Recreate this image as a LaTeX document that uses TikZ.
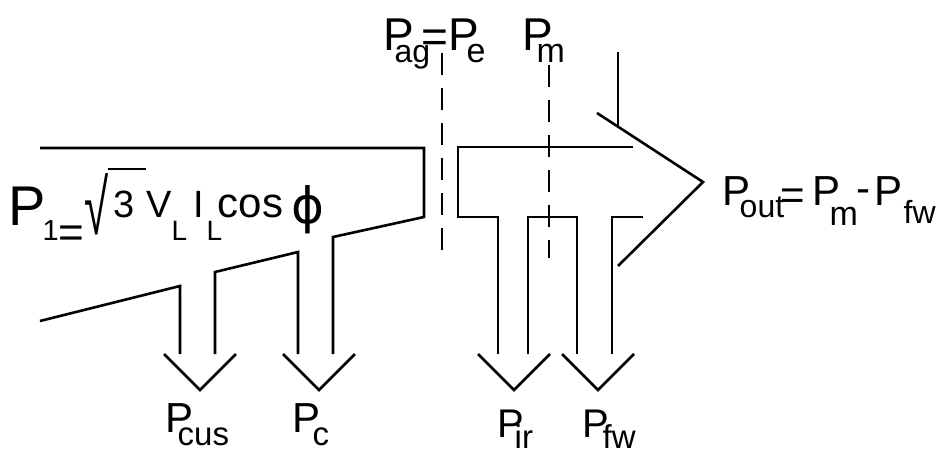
\documentclass[tikz,border=0pt]{standalone}
\usepackage{fontspec}
\setmainfont{Liberation Sans}
\newfontfamily\symfont{DejaVu Sans}
\newcommand{\at}[3]{\rlap{\hspace*{#1pt}\raisebox{#2pt}{#3}}}
\newcommand{\fs}[1]{\fontsize{#1}{#1}\selectfont}
\tikzset{
  flow/.style={line width=2.6pt},
  gap/.style={line width=2.4pt, dash pattern=on 22pt off 13pt},
  lbl/.style={inner sep=0pt, anchor=base west, font=\fs{42}}
}

\begin{document}
\begin{tikzpicture}[x=1pt,y=-1pt]
\useasboundingbox (0,0) rectangle (942,450);
\path (8,225) node[lbl](pin) {\at{0}{0}{\fs{56}P}\at{34}{-15}{\fs{29}1}\at{50}{-22}{\fs{44}=}%
		\at{76}{-9}{\scalebox{1}[1.75]{\fs{44}√}}\at{99}{55.5}{\rule{38pt}{1.6pt}}%
		\at{105}{8}{\fs{38}3}\at{138}{8}{\fs{38}V}\at{163}{-15}{\fs{28}L}%
		\at{185}{8}{\fs{38}I}\at{198}{-15}{\fs{28}L}\at{209}{8}{\fs{42}cos}%
		\at{283}{2}{\symfont\fs{50}ϕ}}
	(383,50) node[lbl,font=\fs{46}](pag) {\at{0}{0}{P}\at{11}{-12}{\fs{32}ag}\at{38}{-2}{=}%
		\at{65}{0}{P}\at{83}{-12}{\fs{34}e}}
	(522,50) node[lbl,font=\fs{46}](pm) {\at{0}{0}{P}\at{14}{-12}{\fs{34}m}}
	(722,205) node[lbl](pout) {\at{0}{0}{P}\at{17}{-12}{\fs{32}out}\at{58}{-4}{=}%
		\at{90}{0}{P}\at{107}{-20}{\fs{34}m}\at{134}{3}{-}\at{152}{0}{P}\at{181}{-18}{\fs{32}fw}}
	(165,432) node[lbl](pcus) {\at{0}{0}{P}\at{12}{-13}{\fs{33}cus}}
	(292,432) node[lbl](pc) {\at{0}{0}{P}\at{20}{-13}{\fs{33}c}}
	(497,437) node[lbl,font=\fs{40}](pir) {\at{0}{0}{P}\at{17}{-11}{\fs{33}ir}}
	(582,437) node[lbl,font=\fs{40}](pfw) {\at{0}{0}{P}\at{20}{-11}{\fs{33}fw}}
	;
	\draw[flow] (40,148) -- (424,148) -- (424,217) -- (333,237) -- (333,354);
	\draw[flow] (298,354) -- (298,252) -- (215,272) -- (215,354);
	\draw[flow] (180,354) -- (180,286) -- (40,321);
	\draw[flow] (633,147) -- (458,147) -- (458,217) -- (498,217) -- (498,354);
	\draw[flow] (528,354) -- (528,217) -- (577,217) -- (577,354);
	\draw[flow] (612,354) -- (612,217) -- (643,217);
	\draw[flow] (597,113) -- (703,182) -- (618,266);
	\draw[line width=1.5pt] (618,52) -- (618,126);
	\foreach \x in {200,319,514,598}
		\draw[flow] (\x-36,354) -- (\x,390) -- (\x+36,354);
	\draw[gap] (442,53) -- (442,252);
	\draw[gap] (549,65) -- (549,258);
\end{tikzpicture}
\end{document}
